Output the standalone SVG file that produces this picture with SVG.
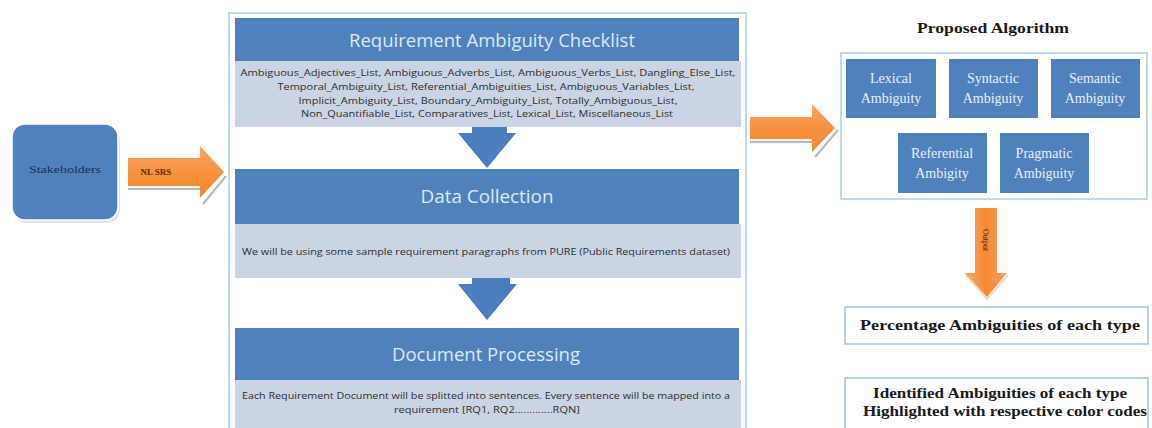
<svg xmlns="http://www.w3.org/2000/svg" width="1152" height="428" viewBox="0 0 1152 428">
<defs>
<style>
.hdr{fill:#4f81bd}
.band{fill:#cbd4e4}
.htxt{font-family:"Open Sans","Liberation Sans",sans-serif;font-size:18px;fill:#dce8f6;text-anchor:middle}
.btxt{font-family:"Open Sans","Liberation Sans",sans-serif;font-size:8.5px;fill:#2e2e2e;text-anchor:middle}
.alg{fill:#4f81bd}
.atxt{font-family:"Liberation Serif",serif;font-size:14px;fill:#e8eef8;text-anchor:middle}
.otxt{font-family:"Liberation Serif",serif;font-weight:bold;font-size:15px;fill:#1a1a1a;text-anchor:middle}
.obox{fill:#ffffff;stroke:#9cc3e4;stroke-width:1.5}
.orange{fill:url(#og)}
.blue{fill:#4a7ebf}
</style>
<linearGradient id="og" x1="0" y1="0" x2="0" y2="1">
<stop offset="0" stop-color="#f9a865"/>
<stop offset="0.5" stop-color="#f7913f"/>
<stop offset="1" stop-color="#f4862f"/>
</linearGradient>
<linearGradient id="ogv" x1="0" y1="0" x2="1" y2="0">
<stop offset="0" stop-color="#f9a865"/>
<stop offset="0.5" stop-color="#f48a32"/>
<stop offset="1" stop-color="#f7a060"/>
</linearGradient>
</defs>
<rect width="1152" height="428" fill="#ffffff"/>

<g id="stakeholders">
<rect x="14" y="127" width="106" height="96" rx="13" fill="#dfe3ea"/>
<rect x="12" y="124" width="106" height="96" rx="13" fill="#4f81bd" stroke="#ffffff" stroke-width="1.5"/>
<text x="65" y="173" font-family="Liberation Serif,serif" font-size="11px" fill="#1f2f55" text-anchor="middle" textLength="72" lengthAdjust="spacingAndGlyphs">Stakeholders</text>
</g>

<g id="main-container">
<rect x="229" y="13" width="517" height="425" fill="#ffffff" stroke="#a9cbe6" stroke-width="1.5"/>
</g>

<g id="checklist">
<rect class="hdr" x="235" y="18" width="504" height="43"/>
<text class="htxt" x="492" y="47" textLength="286" lengthAdjust="spacingAndGlyphs">Requirement Ambiguity Checklist</text>
<rect class="band" x="235" y="61" width="506" height="66"/>
<text class="btxt" x="488" y="76" textLength="495" lengthAdjust="spacingAndGlyphs">Ambiguous_Adjectives_List, Ambiguous_Adverbs_List, Ambiguous_Verbs_List, Dangling_Else_List,</text>
<text class="btxt" x="486" y="90" textLength="417" lengthAdjust="spacingAndGlyphs">Temporal_Ambiguity_List, Referential_Ambiguities_List, Ambiguous_Variables_List,</text>
<text class="btxt" x="488" y="104" textLength="379" lengthAdjust="spacingAndGlyphs">Implicit_Ambiguity_List, Boundary_Ambiguity_List, Totally_Ambiguous_List,</text>
<text class="btxt" x="487" y="117" textLength="372" lengthAdjust="spacingAndGlyphs">Non_Quantifiable_List, Comparatives_List, Lexical_List, Miscellaneous_List</text>
</g>

<g id="data-collection">
<rect class="hdr" x="235" y="169" width="504" height="55"/>
<text class="htxt" x="487" y="203" textLength="133" lengthAdjust="spacingAndGlyphs">Data Collection</text>
<rect class="band" x="235" y="224" width="506" height="54"/>
<text class="btxt" x="486" y="255" textLength="488" lengthAdjust="spacingAndGlyphs">We will be using some sample requirement paragraphs from PURE (Public Requirements dataset)</text>
</g>

<g id="document-processing">
<rect class="hdr" x="235" y="328" width="504" height="52"/>
<text class="htxt" x="486" y="361" textLength="188" lengthAdjust="spacingAndGlyphs">Document Processing</text>
<rect class="band" x="235" y="380" width="506" height="50"/>
<text class="btxt" x="486" y="399" textLength="488" lengthAdjust="spacingAndGlyphs">Each Requirement Document will be splitted into sentences.  Every sentence will be mapped into a</text>
<text class="btxt" x="487" y="413" textLength="186" lengthAdjust="spacingAndGlyphs">requirement [RQ1, RQ2.............RQN]</text>
</g>

<g id="proposed-algorithm">
<text x="993" y="33" font-family="Liberation Serif,serif" font-weight="bold" font-size="14px" fill="#1a1a1a" text-anchor="middle" textLength="152" lengthAdjust="spacingAndGlyphs">Proposed Algorithm</text>
<rect x="841" y="53" width="306" height="146" fill="#ffffff" stroke="#a9cbe6" stroke-width="1.5"/>
<g id="lexical">
<rect class="alg" x="846" y="59" width="90" height="59"/>
<text class="atxt" x="891" y="83">Lexical</text>
<text class="atxt" x="891" y="103">Ambiguity</text>
</g>
<g id="syntactic">
<rect class="alg" x="949" y="59" width="89" height="59"/>
<text class="atxt" x="993" y="83">Syntactic</text>
<text class="atxt" x="993" y="103">Ambiguity</text>
</g>
<g id="semantic">
<rect class="alg" x="1051" y="59" width="89" height="59"/>
<text class="atxt" x="1095" y="83">Semantic</text>
<text class="atxt" x="1095" y="103">Ambiguity</text>
</g>
<g id="referential">
<rect class="alg" x="898" y="133" width="89" height="60"/>
<text class="atxt" x="942" y="158">Referential</text>
<text class="atxt" x="942" y="178">Ambigity</text>
</g>
<g id="pragmatic">
<rect class="alg" x="1000" y="133" width="89" height="60"/>
<text class="atxt" x="1044" y="158">Pragmatic</text>
<text class="atxt" x="1044" y="178">Ambiguity</text>
</g>
</g>

<g id="percentage">
<rect class="obox" x="845" y="307" width="303" height="37"/>
<text class="otxt" x="1000" y="330" textLength="280" lengthAdjust="spacingAndGlyphs">Percentage Ambiguities  of each type</text>
</g>

<g id="identified">
<rect class="obox" x="845" y="378" width="303" height="60"/>
<text class="otxt" x="1000" y="398" textLength="254" lengthAdjust="spacingAndGlyphs">Identified Ambiguities of each type</text>
<text class="otxt" x="1005" y="416" textLength="284" lengthAdjust="spacingAndGlyphs">Highlighted with respective color codes</text>
</g>

<g id="connectors">
<path d="M128,189 L200,189 M203,204 L226,176" stroke="#b9b9b9" stroke-width="2" fill="none"/>
<path class="orange" d="M128,158 L200,158 L200,146 L224,172 L200,198 L200,186 L128,186 Z"/>
<text x="156" y="175" font-family="Liberation Serif,serif" font-size="9px" font-weight="bold" fill="#5a2e10" text-anchor="middle">NL SRS</text>
<path class="blue" d="M472,127 L507,127 L507,133 L516,133 L487,168 L458,133 L472,133 Z"/>
<path class="blue" d="M472,278 L510,278 L510,284 L517,284 L487,320 L458,284 L472,284 Z"/>
<path d="M750,142 L812,142 M815,157 L838,130" stroke="#b9b9b9" stroke-width="2" fill="none"/>
<path class="orange" d="M750,117 L812,117 L812,104 L835,128 L812,152 L812,139 L750,139 Z"/>
<path d="M966,275 L987,299 L1008,275" stroke="#f4d9c0" stroke-width="2" fill="none"/>
<path fill="url(#ogv)" d="M975,208 L997,208 L997,273 L1007,273 L987,297 L965,273 L975,273 Z"/>
<text x="0" y="0" transform="translate(983,240) rotate(90)" font-family="Liberation Serif,serif" font-size="8px" fill="#4a2a10" text-anchor="middle">Output</text>
</g>
</svg>
